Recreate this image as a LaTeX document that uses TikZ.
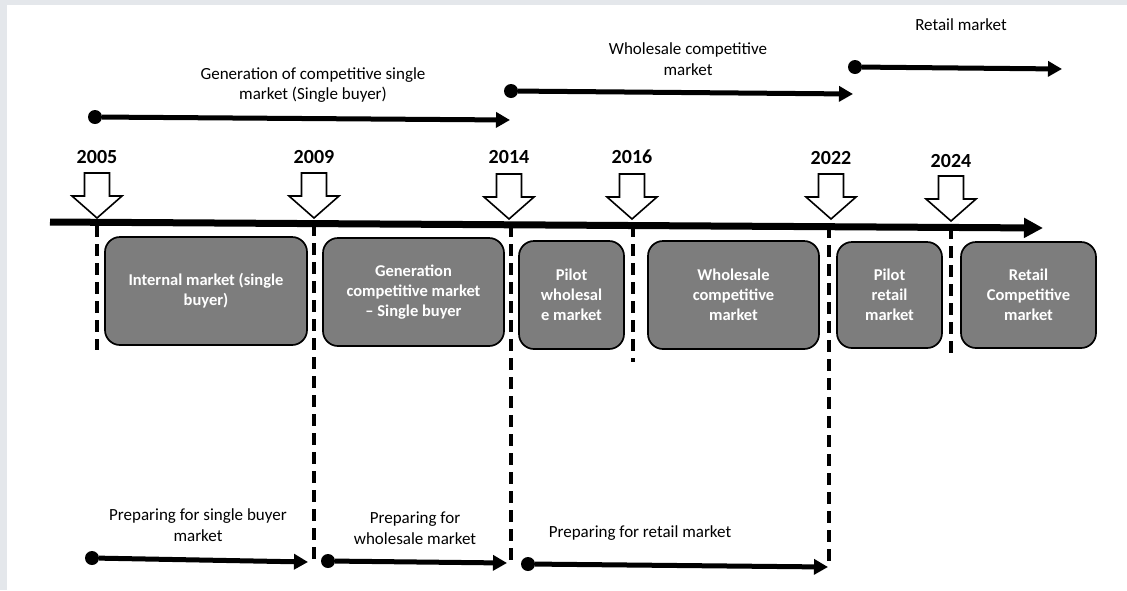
\documentclass[tikz,border=0pt]{standalone}
\usepackage{fontspec}
\setmainfont{Carlito}
\usetikzlibrary{arrows.meta}
\definecolor{framegrey}{RGB}{228,231,235}
\definecolor{boxgrey}{RGB}{125,125,125}

\tikzset{
	every picture/.append style={x=1pt,y=-1pt},
	mybox/.style = {draw=black, line width=1.7pt, rounded corners=15pt, fill=boxgrey, text=white, align=center, font=\bfseries\fontsize{16.5}{20}\selectfont, inner sep=0pt},
	mytext/.style = {align=center, font=\fontsize{17}{20.5}\selectfont},
	myyear/.style = {font=\bfseries\fontsize{20}{22}\selectfont},
	mydot/.style = {circle, fill=black, inner sep=0pt, minimum size=14pt},
	myedge/.style = {draw=black, line width=5pt, -{Triangle[length=14pt,width=15pt]}},
	mydash/.style = {draw=black, line width=3.8pt, dash pattern=on 12pt off 7pt},
	myaxis/.style = {draw=black, line width=7pt, -{Triangle[length=19pt,width=19pt]}},
	yeararrow/.style = {draw=black, line width=1.6pt, fill=white, line join=miter}
}

\begin{document}
\begin{tikzpicture}
	\useasboundingbox (0,0) rectangle (1127,590);
	\fill[framegrey] (0,0) rectangle (1127,590);
	\fill[white] (7,5) rectangle (1127,590);

	% years and their arrows
	\foreach \yr/\x/\ytop/\ylab in {2005/97/173/157, 2009/314/173/157, 2014/509/174/157, 2016/632/174/157, 2022/831/174/158, 2024/951/176/161}{
		\node[myyear] (y\yr) at (\x,\ylab) {\yr};
		\draw[yeararrow] (\x-12.5,\ytop) -- ++(25,0) -- ++(0,23) -- ++(12.5,0) -- (\x,\ytop+45) -- ++(-25,-22) -- ++(12.5,0) -- cycle;
	}

	% time axis
	\coordinate (axisL) at (50,222);
	\coordinate (axisR) at (1043,228);
	\path (axisL) edge [myaxis] (axisR);

	% dashed separators
	\foreach \n/\x/\ya/\yb in {s1/97/225/350, s2/314/224/565, s3/511/225/567, s4/633/225/362, s5/829/226/567, s6/951/227/356}{
		\coordinate (\n a) at (\x,\ya);
		\coordinate (\n b) at (\x,\yb);
		\path (\n a) edge [mydash] (\n b);
	}

	% phases
	\node[mybox, minimum width=202pt, minimum height=108pt] (b1) at (206,291) {Internal market (single\\buyer)};
	\node[mybox, minimum width=181pt, minimum height=108pt] (b2) at (413.5,292) {Generation\\competitive market\\-- Single buyer};
	\node[mybox, minimum width=105pt, minimum height=108pt] (b3) at (571.5,295) {Pilot\\wholesal\\e market};
	\node[mybox, minimum width=171pt, minimum height=108pt] (b4) at (733.5,295) {Wholesale\\competitive\\market};
	\node[mybox, minimum width=105pt, minimum height=106pt] (b5) at (889.5,295) {Pilot\\retail\\market};
	\node[mybox, minimum width=135pt, minimum height=106pt] (b6) at (1028.5,295) {Retail\\Competitive\\market};

	% markets (top)
	\node[mytext] (lg1) at (313,85) {Generation of competitive single\\market (Single buyer)};
	\node[mytext] (lg2) at (688,59) {Wholesale competitive\\market};
	\node[mytext] (lg3) at (961,25) {Retail market};
	\node[mydot] (g1) at (95,117) {};
	\node[mydot] (g2) at (511,91) {};
	\node[mydot] (g3) at (855,67) {};
	\coordinate (g1e) at (510,120);
	\coordinate (g2e) at (853,94);
	\coordinate (g3e) at (1062,69);
	\path (g1) edge [myedge] (g1e);
	\path (g2) edge [myedge] (g2e);
	\path (g3) edge [myedge] (g3e);

	% preparations (bottom)
	\node[mytext] (lp1) at (198,525) {Preparing for single buyer\\market};
	\node[mytext] (lp2) at (415,528) {Preparing for\\wholesale market};
	\node[mytext] (lp3) at (640,533) {Preparing for retail market};
	\node[mydot] (p1) at (92,558) {};
	\node[mydot] (p2) at (328,561) {};
	\node[mydot] (p3) at (528,564) {};
	\coordinate (p1e) at (308,562);
	\coordinate (p2e) at (507,563);
	\coordinate (p3e) at (828,567);
	\path (p1) edge [myedge] (p1e);
	\path (p2) edge [myedge] (p2e);
	\path (p3) edge [myedge] (p3e);
\end{tikzpicture}
\end{document}
